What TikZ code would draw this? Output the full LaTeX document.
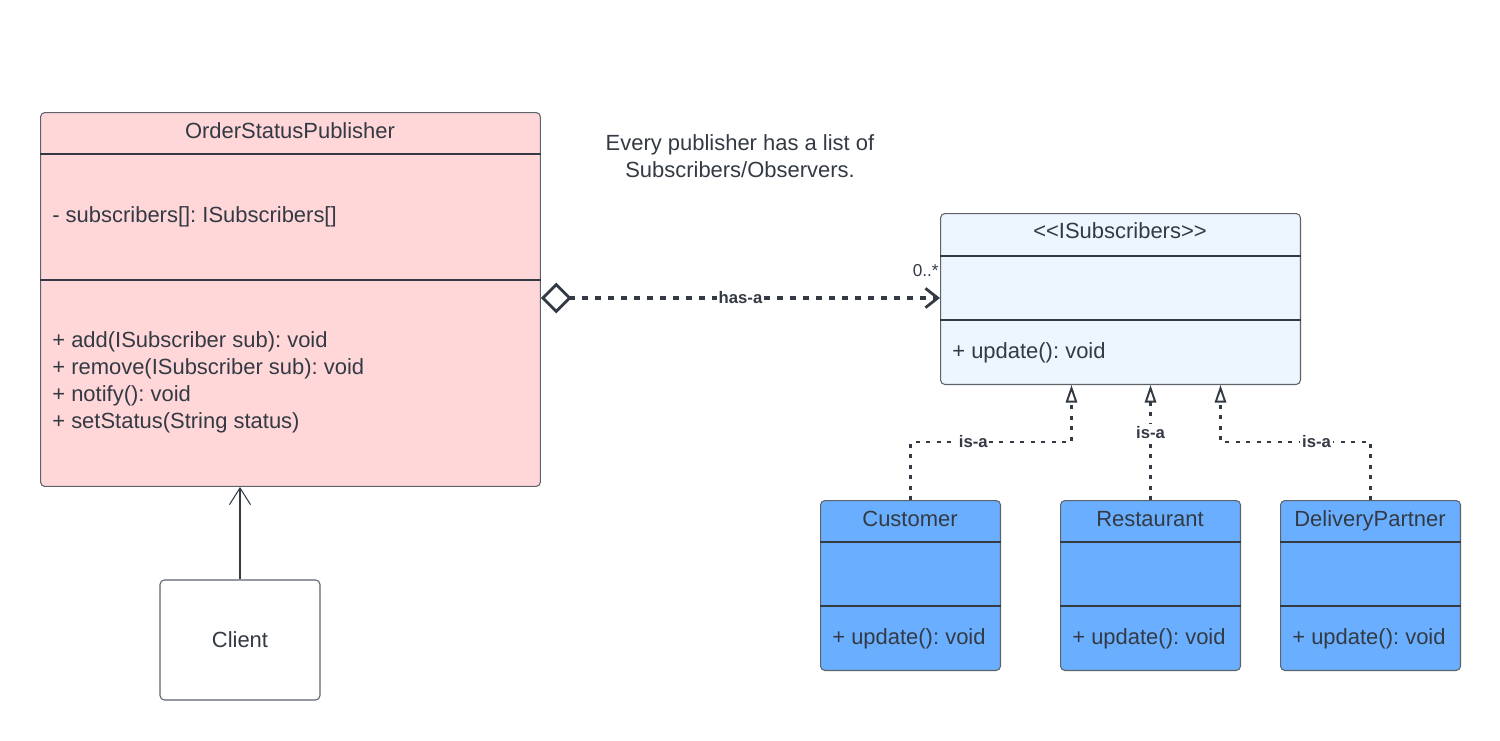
\documentclass[tikz,border=0pt]{standalone}
\usepackage{fontspec}
\setmainfont{Liberation Sans}
\usepackage{tikz}
\usetikzlibrary{arrows.meta,calc}
\usepackage{xcolor}
\definecolor{ink}{HTML}{333A44}
\definecolor{frame}{HTML}{5C636B}
\definecolor{pubpink}{HTML}{FFD7D9}
\definecolor{ifcblue}{HTML}{EDF5FF}
\definecolor{subblue}{HTML}{6AAFFF}
\frenchspacing

\begin{document}
\begin{tikzpicture}[x=0.02cm,y=-0.02cm,>=Straight Barb,
  every node/.style={text=ink,font=\fontsize{12.5}{15.3}\selectfont},
  cls/.style={draw=frame,line width=0.6pt,rounded corners=2.5pt,anchor=north west,inner sep=0},
  sep/.style={draw=ink,line width=0.6pt},
  member/.style={anchor=west,align=left,inner sep=0},
  lab/.style={font=\bfseries\fontsize{9.5}{11}\selectfont,fill=white,inner sep=1pt},
  hasa/.style={draw=ink,line width=1.9pt,dash pattern=on 0.11cm off 0.15cm},
  isa/.style={draw=ink,line width=1.3pt,dash pattern=on 0.08cm off 0.13cm,
    -{Triangle[open,length=10pt,width=6.5pt,line width=1.1pt]}}]
\useasboundingbox (0,0) rectangle (1500,740);

% publisher class
\node[cls,fill=pubpink,minimum width=10cm,minimum height=7.48cm] (pub) at (40,112) {};
\draw[sep] (pub.west |- 0,154) -- (pub.east |- 0,154);
\draw[sep] (pub.west |- 0,280) -- (pub.east |- 0,280);
\node (pubname) at (290,131) {OrderStatusPublisher};
\node[member] (pubattr) at (52,217) {- subscribers[]: ISubscribers[]};
\node[member] (pubops) at (52,382.5) {+ add(ISubscriber sub): void\\+ remove(ISubscriber sub): void\\+ notify(): void\\+ setStatus(String status)};

\node[align=center] (note) at (740,156.5) {Every publisher has a list of\\Subscribers/Observers.};

% interface
\node[cls,fill=ifcblue,minimum width=7.2cm,minimum height=3.42cm] (isub) at (940,213) {};
\draw[sep] (isub.west |- 0,256) -- (isub.east |- 0,256);
\draw[sep] (isub.west |- 0,320) -- (isub.east |- 0,320);
\node (isubname) at (1120,231) {<\kern0pt<ISubscribers>\kern0pt>};
\node[member] (isubops) at (952,353) {+ update(): void};

% subscribers
\node[cls,fill=subblue,minimum width=3.6cm,minimum height=3.4cm] (cust) at (820,500) {};
\draw[sep] (cust.west |- 0,542) -- (cust.east |- 0,542);
\draw[sep] (cust.west |- 0,606) -- (cust.east |- 0,606);
\node (custname) at (910,519) {Customer};
\node[member] (custops) at (832,639) {+ update(): void};

\node[cls,fill=subblue,minimum width=3.6cm,minimum height=3.4cm] (rest) at (1060,500) {};
\draw[sep] (rest.west |- 0,542) -- (rest.east |- 0,542);
\draw[sep] (rest.west |- 0,606) -- (rest.east |- 0,606);
\node (restname) at (1150,519) {Restaurant};
\node[member] (restops) at (1072,639) {+ update(): void};

\node[cls,fill=subblue,minimum width=3.6cm,minimum height=3.4cm] (deliv) at (1280,500) {};
\draw[sep] (deliv.west |- 0,542) -- (deliv.east |- 0,542);
\draw[sep] (deliv.west |- 0,606) -- (deliv.east |- 0,606);
\node[text depth=0pt] (delivname) at (1370,519) {DeliveryPartner};
\node[member] (delivops) at (1292,639) {+ update(): void};

% client
\node[cls,fill=white,anchor=center,minimum width=3.2cm,minimum height=2.4cm] (client) at (240,640) {Client};

% connectors
\draw[hasa,{Diamond[open,length=17.5pt,width=17.5pt,line width=1.6pt]}-{Straight Barb[length=7pt,width=11pt,line width=1.6pt]}] (pub.east |- 0,298) -- (isub.west |- 0,298) node[lab,midway] {has-a};
\node[font=\fontsize{9.8}{11}\selectfont,anchor=east,inner sep=0] (mult) at (939,271) {0..*};

\draw[ink,line width=0.6pt,-{Straight Barb[length=9.5pt,width=12pt]}] (client.north) -- (client.north |- pub.south);

\draw[isa] (cust.north) -- ++(0,-58) -| ($(isub.south)+(-49,0)$) node[lab,pos=0.195] {is-a};
\draw[isa,line width=1.8pt] (rest.north) -- (rest.north |- isub.south) node[lab,pos=0.59] {is-a};
\draw[isa] (deliv.north) -- ++(0,-58) -| ($(isub.south)+(100,0)$) node[lab,pos=0.18] {is-a};
\end{tikzpicture}
\end{document}
